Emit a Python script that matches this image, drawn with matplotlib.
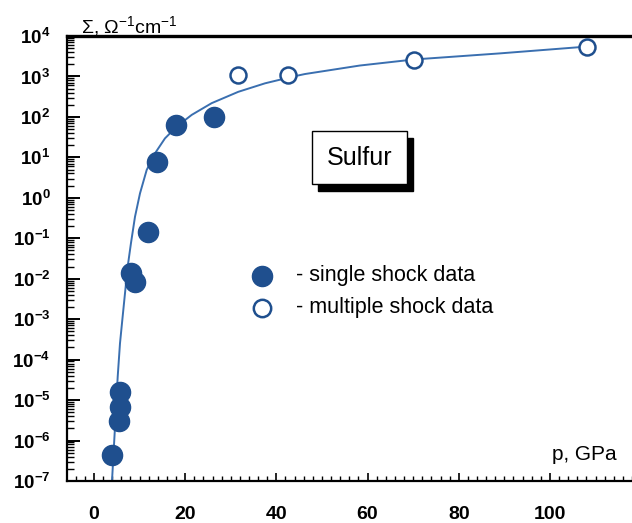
import numpy as np
import matplotlib
matplotlib.use("Agg")
import matplotlib.pyplot as plt
from matplotlib.ticker import FixedLocator, LogLocator, MultipleLocator, FuncFormatter, NullFormatter
from matplotlib.patches import Rectangle

plt.rcParams['font.family'] = ['Liberation Sans', 'DejaVu Sans']
plt.rcParams['mathtext.fontset'] = 'custom'
plt.rcParams['mathtext.rm'] = 'Liberation Sans'
plt.rcParams['mathtext.it'] = 'Liberation Sans:italic'
plt.rcParams['mathtext.bf'] = 'Liberation Sans:bold'

# single shock data (filled)
single_p = [4.0, 5.5, 5.7, 5.7, 8.1, 9.1, 11.9, 13.9, 18.0, 26.3]
single_s = [4.3e-7, 3.0e-6, 6.9e-6, 1.6e-5, 0.0141, 0.0085, 0.145, 7.8, 63, 98]
# multiple shock data (open)
multi_p = [31.5, 42.5, 70.2, 108.2]
multi_s = [1090, 1090, 2550, 5200]
# fitted curve (p, log10 sigma)
curve_p = [3.95, 4.61, 5.20, 5.70, 6.21, 6.80, 7.39, 8.11, 8.99, 10.09, 11.56, 13.38,
           15.57, 18.14, 21.43, 25.81, 31.64, 37.5, 43.36, 46.27, 58.3, 70.2, 89.0, 108.3]
curve_logs = [-7.0, -5.66, -4.42, -3.60, -3.02, -2.36, -1.70, -1.12, -0.47, 0.11, 0.69, 1.10,
              1.47, 1.76, 2.05, 2.34, 2.62, 2.83, 2.99, 3.06, 3.27, 3.42, 3.57, 3.74]

x_ticks = [0, 20, 40, 60, 80, 100]
y_exps = list(range(-7, 5))

W, H = 632, 523
fig = plt.figure(figsize=(W / 100, H / 100), dpi=100)
ax = fig.add_axes([67 / W, (H - 481) / H, (632 - 67) / W, (481 - 36) / H])
ax.set_yscale('log')
ax.set_xlim(-5.92, 118.0)
ax.set_ylim(1e-7, 1e4)

line_c = '#3a6fb0'
dot_c = '#1f4f8e'
ax.plot(curve_p, [10 ** v for v in curve_logs], color=line_c, lw=1.4, zorder=2,
        solid_joinstyle='round')
ax.plot(single_p, single_s, 'o', ms=14.5, color=dot_c, mec=dot_c, zorder=3)
ax.plot(multi_p, multi_s, 'o', ms=11.5, mfc='white', mec=dot_c, mew=1.8, zorder=3)

# spines
ax.spines['right'].set_visible(False)
ax.spines['top'].set_linewidth(2.4)
ax.spines['left'].set_linewidth(1.6)
ax.spines['bottom'].set_linewidth(1.6)

ax.xaxis.set_major_locator(FixedLocator(x_ticks))
ax.xaxis.set_minor_locator(MultipleLocator(2))
ax.xaxis.set_major_formatter(FuncFormatter(lambda v, p: f'{int(v)}'))
ax.yaxis.set_major_locator(FixedLocator([10.0 ** e for e in y_exps]))
ax.yaxis.set_minor_locator(LogLocator(base=10, subs=np.arange(2, 10), numticks=100))
ax.yaxis.set_minor_formatter(NullFormatter())
ax.yaxis.set_major_formatter(FuncFormatter(lambda v, p: r'$\mathbf{10^{%d}}$' % int(round(np.log10(v)))))

ax.tick_params(axis='x', which='major', direction='in', length=6, width=1.2, pad=18,
               labelsize=14, top=False)
ax.tick_params(axis='x', which='minor', direction='in', length=3.5, width=1.0, top=False)
ax.tick_params(axis='y', which='major', direction='in', length=9, width=1.4, pad=12,
               labelsize=13.5, right=False)
ax.tick_params(axis='y', which='minor', direction='in', length=5, width=1.0, right=False)
for lab in ax.get_xticklabels():
    lab.set_fontweight('bold')

# axis labels
ax.text((81 - 67) / 565, 1.0 + 3 / 445, r'$\Sigma$, $\Omega^{-1}$cm$^{-1}$',
        transform=ax.transAxes, fontsize=14, ha='left', va='baseline')
ax.text((552 - 67) / 565, (481 - 455) / 445, 'p, GPa', transform=ax.transAxes,
        fontsize=15, ha='left', va='center')

# Sulfur box with shadow
def px2ax(x, y):
    return ((x - 67) / 565, (481 - y) / 445)

bx0, by0 = px2ax(312, 184)
bx1, by1 = px2ax(407, 131)
sx0, sy0 = px2ax(318, 191)
ax.add_patch(Rectangle((sx0, sy0), bx1 - bx0, by1 - by0, transform=ax.transAxes,
                       facecolor='black', edgecolor='black', zorder=4))
ax.add_patch(Rectangle((bx0, by0), bx1 - bx0, by1 - by0, transform=ax.transAxes,
                       facecolor='white', edgecolor='black', lw=1.0, zorder=5))
ax.text((bx0 + bx1) / 2, (by0 + by1) / 2, 'Sulfur', transform=ax.transAxes,
        fontsize=18, ha='center', va='center', zorder=6)

# legend
lx, ly1 = px2ax(262, 276)
_, ly2 = px2ax(262, 308)
ax.plot([lx], [ly1], 'o', ms=14.5, color=dot_c, transform=ax.transAxes, clip_on=False, zorder=6)
ax.plot([lx], [ly2], 'o', ms=12.5, mfc='white', mec=dot_c, mew=1.8, transform=ax.transAxes,
        clip_on=False, zorder=6)
tx, _ = px2ax(296, 0)
ax.text(tx, ly1, '- single shock data', transform=ax.transAxes, fontsize=15.5, ha='left', va='center')
ax.text(tx, ly2, '- multiple shock data', transform=ax.transAxes, fontsize=15.5, ha='left', va='center')

fig.savefig('out.png', dpi=100)
